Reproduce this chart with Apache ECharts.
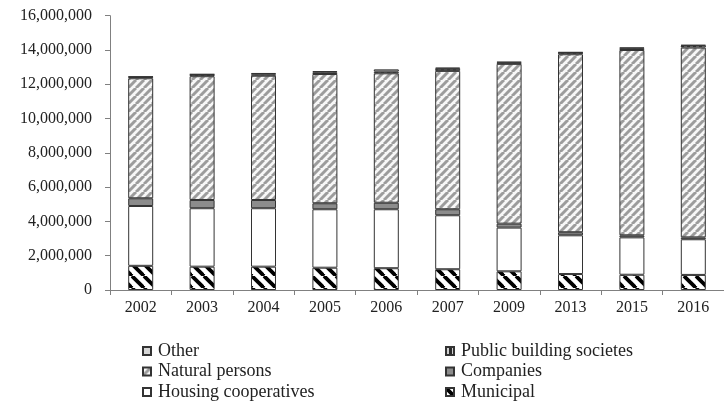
<!DOCTYPE html>
<html>
<head>
<meta charset="utf-8">
<script src="https://cdn.jsdelivr.net/npm/echarts@6/dist/echarts.min.js"></script>
<style>
  html, body { margin: 0; padding: 0; background: #fff; }
  #chart { width: 724px; height: 407px; }
</style>
</head>
<body>
<div id="chart"></div>
<script>
// Dwellings by owner type, per year
const years = ['2002', '2003', '2004', '2005', '2006', '2007', '2009', '2013', '2015', '2016'];
const municipal = [1410000, 1360000, 1360000, 1300000, 1270000, 1210000, 1090000, 930000, 890000, 880000];
const housingCooperatives = [3490000, 3410000, 3410000, 3410000, 3440000, 3150000, 2550000, 2260000, 2180000, 2080000];
const companies = [450000, 480000, 480000, 350000, 380000, 350000, 230000, 180000, 120000, 110000];
const naturalPersons = [7000000, 7220000, 7250000, 7540000, 7550000, 8070000, 9320000, 10380000, 10810000, 11070000];
const publicBuildingSocieties = [80000, 100000, 80000, 100000, 100000, 120000, 80000, 100000, 100000, 120000];
const other = [20000, 20000, 80000, 70000, 130000, 80000, 40000, 20000, 40000, 30000];
const yTicks = [0, 2000000, 4000000, 6000000, 8000000, 10000000, 12000000, 14000000, 16000000];

// Hatch fills built on small canvases
function stripes(size, bg, fg, width, dir) {
  const c = document.createElement('canvas');
  c.width = size; c.height = size;
  const g = c.getContext('2d');
  g.fillStyle = bg; g.fillRect(0, 0, size, size);
  g.strokeStyle = fg; g.lineWidth = width;
  for (let k = -1; k <= 1; k++) {
    const x = k * size;
    g.beginPath();
    if (dir === 'back') { g.moveTo(x, 0); g.lineTo(x + size, size); }
    else { g.moveTo(x, size); g.lineTo(x + size, 0); }
    g.stroke();
  }
  return { image: c, repeat: 'repeat' };
}
function vstripes(size, light, dark) {
  const c = document.createElement('canvas');
  c.width = size; c.height = size;
  const g = c.getContext('2d');
  g.fillStyle = light; g.fillRect(0, 0, size / 2, size);
  g.fillStyle = dark; g.fillRect(size / 2, 0, size / 2, size);
  return { image: c, repeat: 'repeat' };
}

const fills = {
  municipal: stripes(12, '#ffffff', '#000000', 3.8, 'back'),
  housing: '#ffffff',
  companies: '#8c8c8c',
  natural: stripes(8, '#f7f7f7', '#9c9c9c', 3, 'fwd'),
  publicBS: vstripes(6, '#d0d0d0', '#2a2a2a'),
  other: '#d6d6d6'
};

const font = 'Liberation Serif';
const border = { borderColor: '#333333', borderWidth: 1 };

function bar(name, data, color) {
  return {
    name: name, type: 'bar', stack: 'total', data: data, barWidth: 25,
    itemStyle: Object.assign({ color: color }, border),
    emphasis: { disabled: true }
  };
}

const legendBase = {
  orient: 'vertical', top: 342, height: 64, padding: 0,
  itemWidth: 8, itemHeight: 8, itemGap: 2.5,
  icon: 'rect', selectedMode: false,
  textStyle: { fontFamily: font, fontSize: 18, color: '#222', lineHeight: 18, padding: [0, 0, 0, 2] }
};

const chart = echarts.init(document.getElementById('chart'), null, { renderer: 'canvas' });
chart.setOption({
  animation: false,
  backgroundColor: '#ffffff',
  textStyle: { fontFamily: font },
  grid: { left: 110, top: 15.7, width: 625, height: 274.3, containLabel: false },
  legend: [
    Object.assign({ data: ['Other', 'Natural persons', 'Housing cooperatives'], left: 142 }, legendBase),
    Object.assign({ data: ['Public building societes', 'Companies', 'Municipal'], left: 445 }, legendBase)
  ],
  xAxis: {
    type: 'category', data: years,
    axisLine: { lineStyle: { color: '#808080', width: 1 } },
    axisTick: { show: true, length: 5, lineStyle: { color: '#808080' } },
    axisLabel: { fontFamily: font, fontSize: 16, color: '#222', margin: 10 }
  },
  yAxis: {
    type: 'value', min: yTicks[0], max: yTicks[yTicks.length - 1], interval: yTicks[1] - yTicks[0],
    axisLine: { show: true, lineStyle: { color: '#808080', width: 1 } },
    axisTick: { show: true, length: 5, lineStyle: { color: '#808080' } },
    splitLine: { show: false },
    axisLabel: {
      fontFamily: font, fontSize: 16, color: '#222', margin: 18,
      formatter: v => v.toLocaleString('en-US')
    }
  },
  series: [
    bar('Municipal', municipal, fills.municipal),
    bar('Housing cooperatives', housingCooperatives, fills.housing),
    bar('Companies', companies, fills.companies),
    bar('Natural persons', naturalPersons, fills.natural),
    bar('Public building societes', publicBuildingSocieties, fills.publicBS),
    bar('Other', other, fills.other)
  ]
});
</script>
</body>
</html>
